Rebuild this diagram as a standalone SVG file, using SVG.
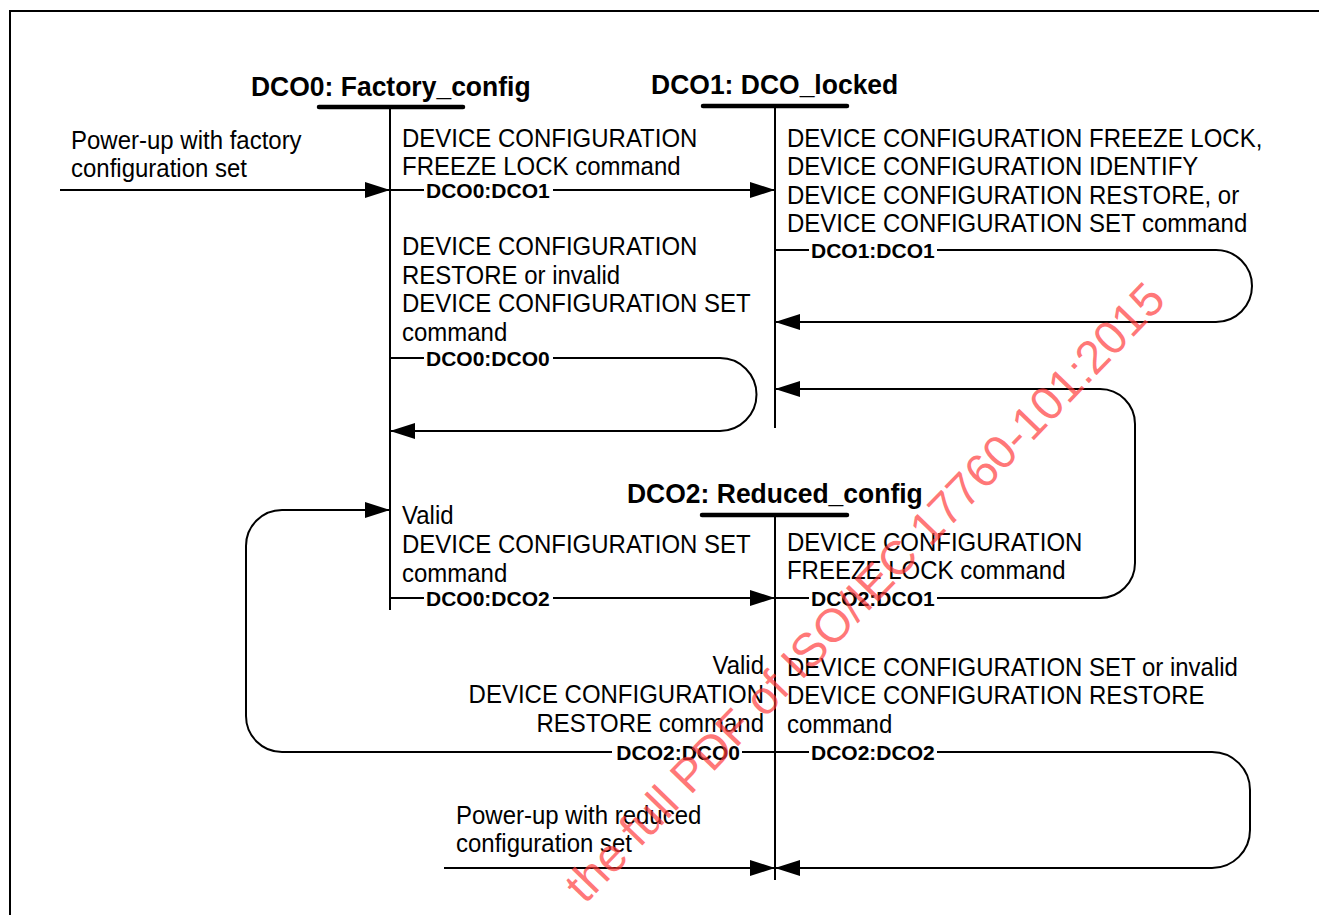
<svg xmlns="http://www.w3.org/2000/svg" width="1319" height="915" viewBox="0 0 1319 915">
<style>
.t{font-family:"Liberation Sans",Arial,sans-serif;font-size:25.5px;fill:#000}
.ttl{font-family:"Liberation Sans",Arial,sans-serif;font-size:28px;font-weight:bold;fill:#000}
.lbl{font-family:"Liberation Sans",Arial,sans-serif;font-size:21px;font-weight:bold;fill:#000}
.ln{fill:none;stroke:#000;stroke-width:2}
.bar{stroke:#000;stroke-width:4.5;stroke-linecap:round}
.wm{font-family:"Liberation Sans",Arial,sans-serif;font-size:47px;fill:#ff3b3b;fill-opacity:0.7}
</style>
<defs>
<marker id="ah" viewBox="0 0 25 16" refX="25" refY="8" markerWidth="25" markerHeight="16" markerUnits="userSpaceOnUse" orient="auto">
<path d="M0,0 L25,8 L0,16 Z" fill="#000"/>
</marker>
</defs>
<rect x="10" y="11" width="1400" height="1000" fill="none" stroke="#000" stroke-width="2"/>

<g id="DCO0">
<g transform="scale(0.946,1)"><text class="ttl" x="265.3" y="96">DCO0: Factory_config</text></g>
<line class="bar" x1="319" y1="107" x2="463" y2="107"/>
<line class="ln" x1="390" y1="107" x2="390" y2="610"/>
</g>
<g id="DCO1">
<g transform="scale(0.946,1)"><text class="ttl" x="688.2" y="94">DCO1: DCO_locked</text></g>
<line class="bar" x1="703" y1="106" x2="847" y2="106"/>
<line class="ln" x1="775" y1="106" x2="775" y2="428"/>
</g>
<g id="DCO2">
<g transform="scale(0.946,1)"><text class="ttl" x="662.8" y="503">DCO2: Reduced_config</text></g>
<line class="bar" x1="702" y1="515" x2="847" y2="515"/>
<line class="ln" x1="775" y1="515" x2="775" y2="880"/>
</g>

<g id="connectors">
<path class="ln" d="M60,190 H390" marker-end="url(#ah)"/>
<path class="ln" d="M390,190 H424"/>
<path class="ln" d="M553,190 H775" marker-end="url(#ah)"/>
<path class="ln" d="M775,250 H809"/>
<path class="ln" d="M937,250 H1216 A36,36 0 0 1 1216,322 H775" marker-end="url(#ah)"/>
<path class="ln" d="M390,358 H424"/>
<path class="ln" d="M553,358 H720 A36.5,36.5 0 0 1 720,431 H390" marker-end="url(#ah)"/>
<path class="ln" d="M937,598 H1100 A35,35 0 0 0 1135,563 V424 A35,35 0 0 0 1100,389 H775" marker-end="url(#ah)"/>
<path class="ln" d="M775,598 H809"/>
<path class="ln" d="M390,598 H424"/>
<path class="ln" d="M553,598 H775" marker-end="url(#ah)"/>
<path class="ln" d="M612,752 H282 A36,36 0 0 1 246,716 V546 A36,36 0 0 1 282,510 H390" marker-end="url(#ah)"/>
<path class="ln" d="M742,752 H809"/>
<path class="ln" d="M937,752 H1212 A38,38 0 0 1 1250,790 V830 A38,38 0 0 1 1212,868 H775" marker-end="url(#ah)"/>
<path class="ln" d="M444,868 H775" marker-end="url(#ah)"/>
<text class="lbl" x="426" y="197.5">DCO0:DCO1</text>
<text class="lbl" x="811" y="257.5">DCO1:DCO1</text>
<text class="lbl" x="426" y="365.5">DCO0:DCO0</text>
<text class="lbl" x="426" y="605.5">DCO0:DCO2</text>
<text class="lbl" x="811" y="605.5">DCO2:DCO1</text>
<text class="lbl" x="740" y="759.5" text-anchor="end">DCO2:DCO0</text>
<text class="lbl" x="811" y="759.5">DCO2:DCO2</text>
</g>

<g id="texts" transform="scale(0.941,1)">
<text class="t" x="75.45" y="149">Power-up with factory</text>
<text class="t" x="75.45" y="177">configuration set</text>
<text class="t" x="427.2" y="147">DEVICE CONFIGURATION</text>
<text class="t" x="427.2" y="175">FREEZE LOCK command</text>
<text class="t" x="836.3" y="147">DEVICE CONFIGURATION FREEZE LOCK,</text>
<text class="t" x="836.3" y="175">DEVICE CONFIGURATION IDENTIFY</text>
<text class="t" x="836.3" y="204">DEVICE CONFIGURATION RESTORE, or</text>
<text class="t" x="836.3" y="232">DEVICE CONFIGURATION SET command</text>
<text class="t" x="427.2" y="255">DEVICE CONFIGURATION</text>
<text class="t" x="427.2" y="284">RESTORE or invalid</text>
<text class="t" x="427.2" y="312">DEVICE CONFIGURATION SET</text>
<text class="t" x="427.2" y="341">command</text>
<text class="t" x="427.2" y="524">Valid</text>
<text class="t" x="427.2" y="553">DEVICE CONFIGURATION SET</text>
<text class="t" x="427.2" y="582">command</text>
<text class="t" x="836.3" y="551">DEVICE CONFIGURATION</text>
<text class="t" x="836.3" y="579">FREEZE LOCK command</text>
<text class="t" x="811.9" y="674" text-anchor="end">Valid</text>
<text class="t" x="811.9" y="703" text-anchor="end">DEVICE CONFIGURATION</text>
<text class="t" x="811.9" y="732" text-anchor="end">RESTORE command</text>
<text class="t" x="836.3" y="676">DEVICE CONFIGURATION SET or invalid</text>
<text class="t" x="836.3" y="704">DEVICE CONFIGURATION RESTORE</text>
<text class="t" x="836.3" y="733">command</text>
<text class="t" x="484.6" y="824">Power-up with reduced</text>
<text class="t" x="484.6" y="852">configuration set</text>
</g>

<text class="wm" transform="translate(585,905) rotate(-46)">the full PDF of ISO/IEC 17760-101:2015</text>
</svg>
